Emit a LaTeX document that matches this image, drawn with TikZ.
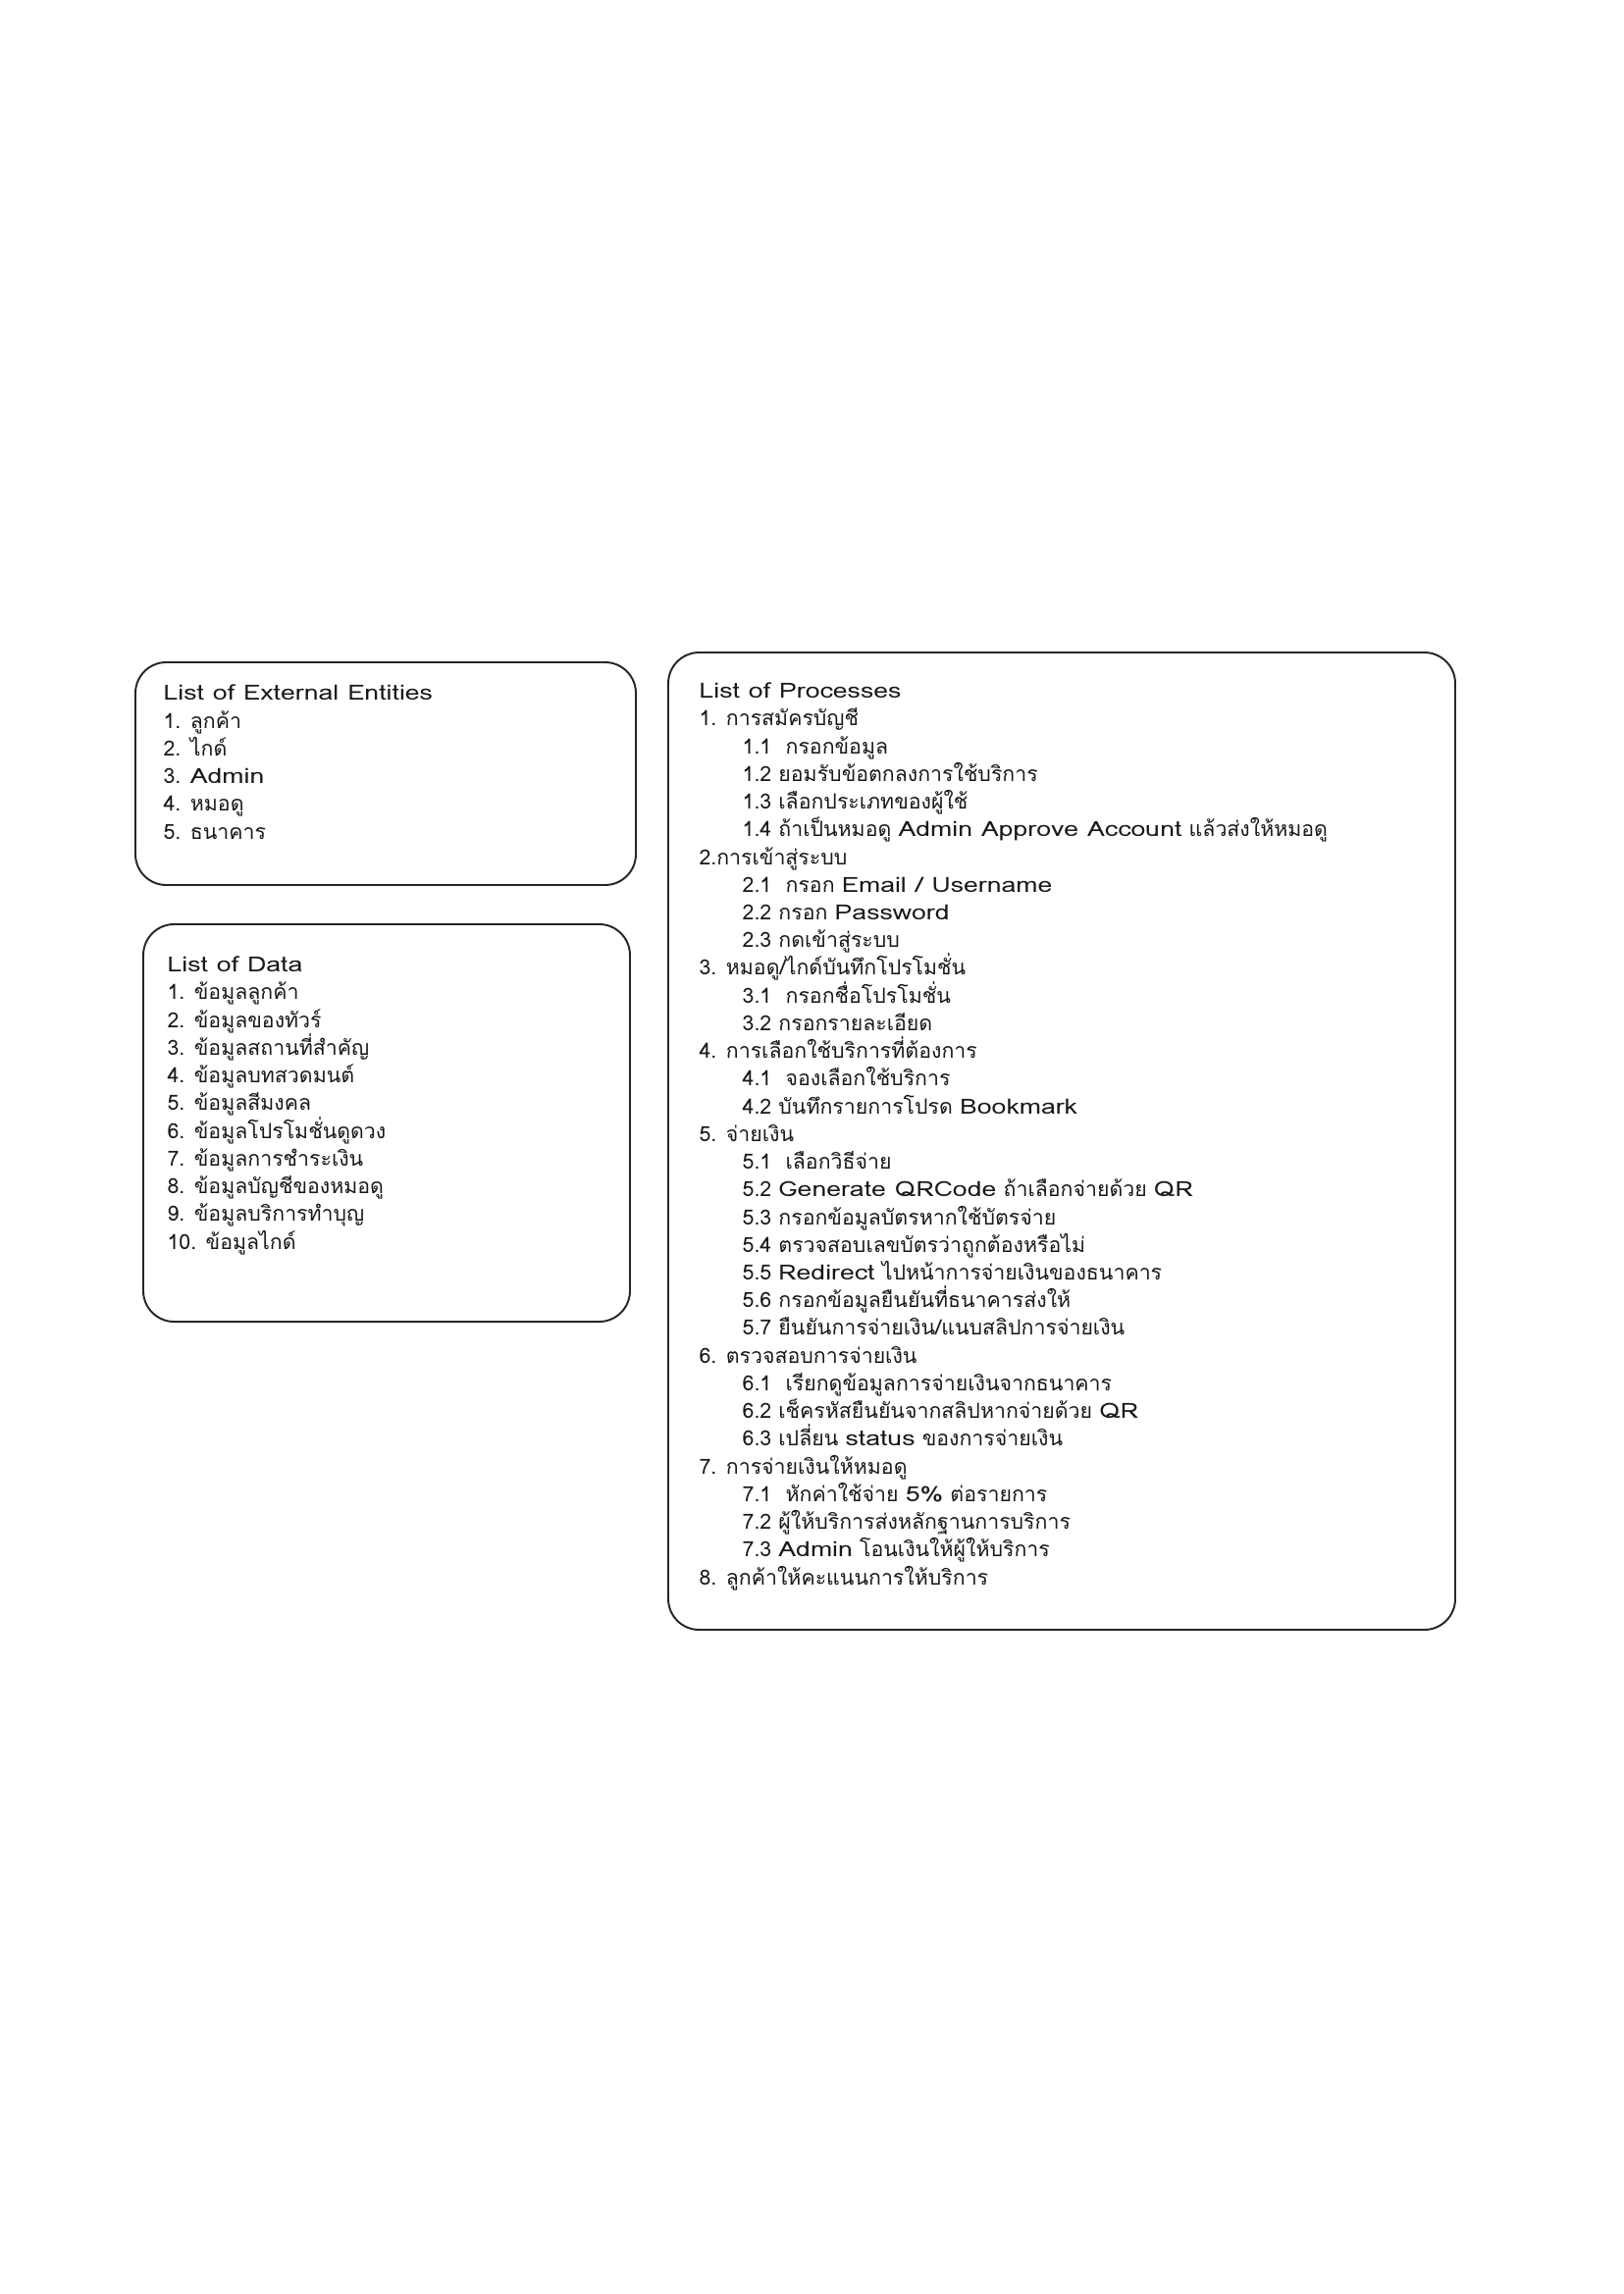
\documentclass[tikz,border=0pt]{standalone}
\usepackage{fontspec}
\setmainfont[Script=Thai]{Loma}
\newfontfamily\engfont[FakeStretch=1.25]{Loma}
\newcommand{\eng}[1]{{\engfont #1}}
\newcommand{\lstfont}{\fontsize{7.7}{10.2}\selectfont\setlength{\lineskiplimit}{-10pt}}
\usepackage{tikz}

\begin{document}
\begin{tikzpicture}[x=0.127mm, y=-0.127mm]
% Node styles ---
\tikzstyle{frm} = [rectangle, rounded corners = 4mm, line width = 0.7pt, draw = black!85, fill = white, inner sep = 0pt] % List frames
\tikzstyle{lst} = [anchor = base west, align = left, inner sep = 0pt, text = black!90, font = \lstfont] % List texts (anchored at last line)
% Begin Figure ---
\useasboundingbox (0,0) rectangle (1654,2338);
% Frames
\node at (393,788.5) [frm, minimum width = 64.77mm, minimum height = 28.83mm] (ents) {};
\node at (394,1144.5) [frm, minimum width = 62.99mm, minimum height = 51.44mm] (data) {};
\node at (1082,1163) [frm, minimum width = 101.85mm, minimum height = 126.49mm] (procs) {};
% Lists
\node at (166,855) [lst] (entslist) {\eng{List of External Entities}\\
1. ลูกค้า\\
2. ไกด์\\
3. \eng{Admin}\\
4. หมอดู\\
5. ธนาคาร};
\node at (170,1273) [lst] (datalist) {\eng{List of Data}\\
1. ข้อมูลลูกค้า\\
2. ข้อมูลของทัวร์\\
3. ข้อมูลสถานที่สำคัญ\\
4. ข้อมูลบทสวดมนต์\\
5. ข้อมูลสีมงคล\\
6. ข้อมูลโปรโมชั่นดูดวง\\
7. ข้อมูลการชำระเงิน\\
8. ข้อมูลบัญชีของหมอดู\\
9. ข้อมูลบริการทำบุญ\\
10. ข้อมูลไกด์};
\node at (712,1615) [lst] (procslist) {\eng{List of Processes}\\
1. การสมัครบัญชี\\
\hspace*{5.6mm}1.1\ \ กรอกข้อมูล\\
\hspace*{5.6mm}1.2 ยอมรับข้อตกลงการใช้บริการ\\
\hspace*{5.6mm}1.3 เลือกประเภทของผู้ใช้\\
\hspace*{5.6mm}1.4 ถ้าเป็นหมอดู \eng{Admin Approve Account} แล้วส่งให้หมอดู\\
2.การเข้าสู่ระบบ\\
\hspace*{5.6mm}2.1\ \ กรอก \eng{Email / Username}\\
\hspace*{5.6mm}2.2 กรอก \eng{Password}\\
\hspace*{5.6mm}2.3 กดเข้าสู่ระบบ\\
3. หมอดู/ไกด์บันทึกโปรโมชั่น\\
\hspace*{5.6mm}3.1\ \ กรอกชื่อโปรโมชั่น\\
\hspace*{5.6mm}3.2 กรอกรายละเอียด\\
4. การเลือกใช้บริการที่ต้องการ\\
\hspace*{5.6mm}4.1\ \ จองเลือกใช้บริการ\\
\hspace*{5.6mm}4.2 บันทึกรายการโปรด \eng{Bookmark}\\
5. จ่ายเงิน\\
\hspace*{5.6mm}5.1\ \ เลือกวิธีจ่าย\\
\hspace*{5.6mm}5.2 \eng{Generate QRCode} ถ้าเลือกจ่ายด้วย \eng{QR}\\
\hspace*{5.6mm}5.3 กรอกข้อมูลบัตรหากใช้บัตรจ่าย\\
\hspace*{5.6mm}5.4 ตรวจสอบเลขบัตรว่าถูกต้องหรือไม่\\
\hspace*{5.6mm}5.5 \eng{Redirect} ไปหน้าการจ่ายเงินของธนาคาร\\
\hspace*{5.6mm}5.6 กรอกข้อมูลยืนยันที่ธนาคารส่งให้\\
\hspace*{5.6mm}5.7 ยืนยันการจ่ายเงิน/แนบสลิปการจ่ายเงิน\\
6. ตรวจสอบการจ่ายเงิน\\
\hspace*{5.6mm}6.1\ \ เรียกดูข้อมูลการจ่ายเงินจากธนาคาร\\
\hspace*{5.6mm}6.2 เช็ครหัสยืนยันจากสลิปหากจ่ายด้วย \eng{QR}\\
\hspace*{5.6mm}6.3 เปลี่ยน \eng{status} ของการจ่ายเงิน\\
7. การจ่ายเงินให้หมอดู\\
\hspace*{5.6mm}7.1\ \ หักค่าใช้จ่าย \eng{5\%} ต่อรายการ\\
\hspace*{5.6mm}7.2 ผู้ให้บริการส่งหลักฐานการบริการ\\
\hspace*{5.6mm}7.3 \eng{Admin} โอนเงินให้ผู้ให้บริการ\\
8. ลูกค้าให้คะแนนการให้บริการ};
\end{tikzpicture}
\end{document}
